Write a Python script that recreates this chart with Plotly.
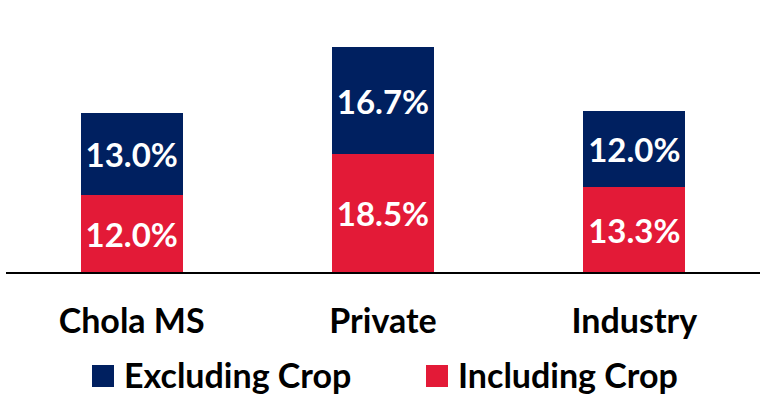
import plotly.graph_objects as go

# Crop-wise share data (%)
categories = ["Chola MS", "Private", "Industry"]
including_crop = [12.0, 18.5, 13.3]
excluding_crop = [13.0, 16.7, 12.0]
series_names = ["Excluding Crop", "Including Crop"]

NAVY = "#002060"
RED = "#E31A37"
FONT = "Lato, sans-serif"

W, H = 760, 395
ML, MR, MT, MB = 6, 0, 20, 123
PW, PH = W - ML - MR, H - MT - MB

fig = go.Figure()
fig.add_trace(go.Bar(
    x=categories, y=including_crop, name=series_names[1],
    marker=dict(color=RED, line=dict(width=0)),
    text=[f"{v:.1f}%" for v in including_crop],
    textposition="inside", insidetextanchor="middle",
    textfont=dict(family=FONT, size=33, color="white", weight="bold"),
    showlegend=False,
))
fig.add_trace(go.Bar(
    x=categories, y=excluding_crop, name=series_names[0],
    marker=dict(color=NAVY, line=dict(width=0)),
    text=[f"{v:.1f}%" for v in excluding_crop],
    textposition="inside", insidetextanchor="middle",
    textfont=dict(family=FONT, size=33, color="white", weight="bold"),
    showlegend=False,
))


def px_x(px):
    return (px - ML) / PW


def px_y(py):
    return (H - MB - py) / PH


# Legend: coloured squares with labels beneath the axis
legend_items = [(series_names[0], NAVY, 92), (series_names[1], RED, 426)]
for name, color, left in legend_items:
    fig.add_shape(type="rect", xref="paper", yref="paper",
                  x0=px_x(left), x1=px_x(left + 22),
                  y0=px_y(387), y1=px_y(365),
                  fillcolor=color, line=dict(width=0))
    fig.add_annotation(xref="paper", yref="paper",
                       x=px_x(left + 30), y=px_y(375),
                       xanchor="left", yanchor="middle", showarrow=False,
                       text=f"<b>{name}</b>",
                       font=dict(family=FONT, size=34, color="black"))

fig.update_layout(
    width=W, height=H,
    margin=dict(l=ML, r=MR, t=MT, b=MB),
    barmode="stack", bargap=0.594,
    plot_bgcolor="white", paper_bgcolor="white",
    font=dict(family=FONT, color="black"),
    xaxis=dict(
        showline=True, linecolor="black", linewidth=2,
        showgrid=False, ticks="", fixedrange=True,
        tickfont=dict(family=FONT, size=34, color="black", weight="bold"),
        ticklabelstandoff=18,
    ),
    yaxis=dict(visible=False, range=[0, PH / 6.38], fixedrange=True),
)

fig.write_html("out.html")
